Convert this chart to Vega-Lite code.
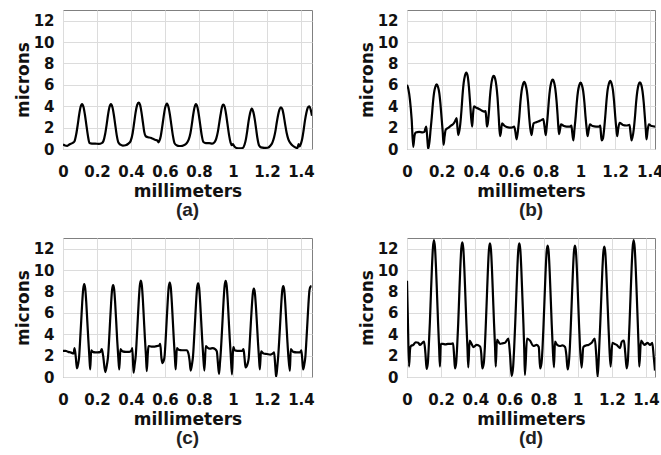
{
"$schema": "https://vega.github.io/schema/vega-lite/v6.json",
"autosize": {"type": "pad"},
"padding": {"left": 13, "top": 9, "right": 0, "bottom": 0},
"background": "white",
"columns": 2,
"bounds": "flush",
"spacing": {"row": 89, "column": 95},
"datasets": {
"a": [{"x":0,"y":0.42},{"x":0.012,"y":0.33},{"x":0.025,"y":0.3},{"x":0.04,"y":0.45},{"x":0.055,"y":0.55},{"x":0.067,"y":0.7},{"x":0.078,"y":1.4},{"x":0.087,"y":2.3},{"x":0.095,"y":3.2},{"x":0.103,"y":3.9},{"x":0.112,"y":4.2},{"x":0.121,"y":3.9},{"x":0.129,"y":3.2},{"x":0.137,"y":2.3},{"x":0.146,"y":1.3},{"x":0.156,"y":0.55},{"x":0.17,"y":0.5},{"x":0.19,"y":0.5},{"x":0.21,"y":0.48},{"x":0.228,"y":0.55},{"x":0.238,"y":0.75},{"x":0.248,"y":1.4},{"x":0.257,"y":2.3},{"x":0.265,"y":3.2},{"x":0.273,"y":3.9},{"x":0.282,"y":4.2},{"x":0.291,"y":3.9},{"x":0.299,"y":3.2},{"x":0.307,"y":2.3},{"x":0.316,"y":1.3},{"x":0.326,"y":0.6},{"x":0.338,"y":0.4},{"x":0.352,"y":0.32},{"x":0.368,"y":0.35},{"x":0.385,"y":0.5},{"x":0.398,"y":0.75},{"x":0.41,"y":1.5},{"x":0.419,"y":2.5},{"x":0.427,"y":3.4},{"x":0.436,"y":4.1},{"x":0.445,"y":4.35},{"x":0.454,"y":4.1},{"x":0.462,"y":3.4},{"x":0.47,"y":2.5},{"x":0.478,"y":1.6},{"x":0.486,"y":1.2},{"x":0.5,"y":1.1},{"x":0.515,"y":1.05},{"x":0.53,"y":0.95},{"x":0.545,"y":0.85},{"x":0.555,"y":0.8},{"x":0.562,"y":0.62},{"x":0.568,"y":0.8},{"x":0.575,"y":1.2},{"x":0.583,"y":2.0},{"x":0.592,"y":3.0},{"x":0.6,"y":3.8},{"x":0.612,"y":4.25},{"x":0.621,"y":3.9},{"x":0.629,"y":3.2},{"x":0.637,"y":2.3},{"x":0.646,"y":1.3},{"x":0.656,"y":0.55},{"x":0.668,"y":0.35},{"x":0.685,"y":0.28},{"x":0.702,"y":0.3},{"x":0.718,"y":0.4},{"x":0.73,"y":0.6},{"x":0.74,"y":0.9},{"x":0.75,"y":1.5},{"x":0.758,"y":2.3},{"x":0.766,"y":3.2},{"x":0.774,"y":3.9},{"x":0.782,"y":4.2},{"x":0.791,"y":3.9},{"x":0.799,"y":3.2},{"x":0.807,"y":2.3},{"x":0.816,"y":1.3},{"x":0.826,"y":0.65},{"x":0.84,"y":0.55},{"x":0.86,"y":0.55},{"x":0.878,"y":0.5},{"x":0.892,"y":0.65},{"x":0.902,"y":1.0},{"x":0.911,"y":1.6},{"x":0.919,"y":2.4},{"x":0.927,"y":3.2},{"x":0.935,"y":3.9},{"x":0.943,"y":4.15},{"x":0.952,"y":3.9},{"x":0.96,"y":3.2},{"x":0.968,"y":2.3},{"x":0.977,"y":1.3},{"x":0.986,"y":0.6},{"x":0.994,"y":0.35},{"x":1.0,"y":0.45},{"x":1.008,"y":0.25},{"x":1.02,"y":0.1},{"x":1.04,"y":0.05},{"x":1.058,"y":0.1},{"x":1.068,"y":0.4},{"x":1.076,"y":0.9},{"x":1.084,"y":1.7},{"x":1.092,"y":2.6},{"x":1.1,"y":3.3},{"x":1.11,"y":3.78},{"x":1.12,"y":3.45},{"x":1.128,"y":2.8},{"x":1.136,"y":1.9},{"x":1.144,"y":1.0},{"x":1.153,"y":0.35},{"x":1.165,"y":0.15},{"x":1.185,"y":0.1},{"x":1.205,"y":0.12},{"x":1.22,"y":0.3},{"x":1.232,"y":0.6},{"x":1.242,"y":1.1},{"x":1.25,"y":1.7},{"x":1.258,"y":2.5},{"x":1.266,"y":3.2},{"x":1.274,"y":3.7},{"x":1.282,"y":3.9},{"x":1.291,"y":3.7},{"x":1.299,"y":3.1},{"x":1.307,"y":2.3},{"x":1.316,"y":1.5},{"x":1.326,"y":0.9},{"x":1.338,"y":0.55},{"x":1.352,"y":0.3},{"x":1.368,"y":0.15},{"x":1.38,"y":0.1},{"x":1.386,"y":0.45},{"x":1.392,"y":0.25},{"x":1.4,"y":0.5},{"x":1.408,"y":1.0},{"x":1.416,"y":1.8},{"x":1.424,"y":2.7},{"x":1.432,"y":3.4},{"x":1.44,"y":3.85},{"x":1.449,"y":4.0},{"x":1.457,"y":3.7},{"x":1.465,"y":3.1}],
"b": [{"x":0,"y":6.0},{"x":0.008,"y":5.6},{"x":0.017,"y":4.6},{"x":0.027,"y":2.75},{"x":0.036,"y":0.2},{"x":0.043,"y":1.2},{"x":0.05,"y":1.55},{"x":0.07,"y":1.6},{"x":0.09,"y":1.55},{"x":0.1,"y":1.6},{"x":0.106,"y":1.9},{"x":0.111,"y":2.1},{"x":0.117,"y":1.0},{"x":0.122,"y":0.0},{"x":0.129,"y":0.6},{"x":0.136,"y":1.8},{"x":0.143,"y":3.0},{"x":0.149,"y":4.2},{"x":0.156,"y":5.25},{"x":0.163,"y":5.8},{"x":0.171,"y":6.05},{"x":0.179,"y":5.8},{"x":0.186,"y":5.25},{"x":0.193,"y":4.2},{"x":0.199,"y":3.0},{"x":0.206,"y":1.6},{"x":0.211,"y":0.4},{"x":0.217,"y":1.2},{"x":0.223,"y":1.8},{"x":0.24,"y":2.0},{"x":0.255,"y":2.2},{"x":0.267,"y":2.35},{"x":0.277,"y":2.6},{"x":0.286,"y":2.9},{"x":0.291,"y":2.0},{"x":0.296,"y":1.3},{"x":0.307,"y":2.3},{"x":0.314,"y":3.6},{"x":0.32,"y":5.0},{"x":0.327,"y":6.2},{"x":0.334,"y":6.85},{"x":0.342,"y":7.15},{"x":0.35,"y":6.8},{"x":0.357,"y":5.8},{"x":0.364,"y":4.3},{"x":0.37,"y":2.9},{"x":0.376,"y":2.1},{"x":0.381,"y":3.3},{"x":0.386,"y":4.0},{"x":0.4,"y":3.85},{"x":0.415,"y":3.75},{"x":0.43,"y":3.6},{"x":0.445,"y":3.5},{"x":0.453,"y":3.55},{"x":0.457,"y":2.9},{"x":0.461,"y":2.1},{"x":0.465,"y":2.3},{"x":0.472,"y":3.4},{"x":0.478,"y":4.8},{"x":0.485,"y":5.95},{"x":0.492,"y":6.6},{"x":0.5,"y":6.85},{"x":0.508,"y":6.6},{"x":0.515,"y":5.95},{"x":0.522,"y":4.8},{"x":0.529,"y":3.0},{"x":0.536,"y":1.2},{"x":0.541,"y":1.5},{"x":0.548,"y":2.4},{"x":0.56,"y":2.2},{"x":0.575,"y":2.05},{"x":0.59,"y":2.0},{"x":0.603,"y":2.0},{"x":0.618,"y":2.1},{"x":0.625,"y":1.6},{"x":0.632,"y":0.9},{"x":0.641,"y":1.9},{"x":0.648,"y":3.1},{"x":0.654,"y":4.4},{"x":0.661,"y":5.45},{"x":0.668,"y":6.0},{"x":0.676,"y":6.27},{"x":0.684,"y":6.0},{"x":0.691,"y":5.45},{"x":0.698,"y":4.4},{"x":0.704,"y":3.1},{"x":0.711,"y":1.9},{"x":0.718,"y":1.3},{"x":0.724,"y":1.9},{"x":0.73,"y":2.4},{"x":0.745,"y":2.5},{"x":0.76,"y":2.6},{"x":0.775,"y":2.7},{"x":0.786,"y":2.8},{"x":0.793,"y":2.1},{"x":0.8,"y":1.3},{"x":0.805,"y":2.0},{"x":0.812,"y":3.25},{"x":0.818,"y":4.55},{"x":0.825,"y":5.65},{"x":0.832,"y":6.25},{"x":0.84,"y":6.5},{"x":0.848,"y":6.25},{"x":0.855,"y":5.65},{"x":0.862,"y":4.55},{"x":0.868,"y":3.25},{"x":0.873,"y":2.0},{"x":0.877,"y":1.4},{"x":0.883,"y":1.9},{"x":0.888,"y":2.3},{"x":0.905,"y":2.15},{"x":0.92,"y":2.1},{"x":0.94,"y":2.1},{"x":0.948,"y":2.2},{"x":0.953,"y":1.5},{"x":0.959,"y":0.8},{"x":0.966,"y":1.9},{"x":0.973,"y":3.1},{"x":0.979,"y":4.35},{"x":0.986,"y":5.4},{"x":0.993,"y":5.95},{"x":1.001,"y":6.2},{"x":1.009,"y":5.95},{"x":1.016,"y":5.4},{"x":1.023,"y":4.35},{"x":1.029,"y":3.1},{"x":1.036,"y":1.9},{"x":1.041,"y":1.2},{"x":1.048,"y":1.8},{"x":1.055,"y":2.3},{"x":1.07,"y":2.15},{"x":1.09,"y":2.1},{"x":1.108,"y":2.1},{"x":1.114,"y":2.2},{"x":1.118,"y":1.5},{"x":1.122,"y":0.8},{"x":1.13,"y":1.0},{"x":1.137,"y":1.9},{"x":1.144,"y":3.2},{"x":1.15,"y":4.45},{"x":1.157,"y":5.55},{"x":1.164,"y":6.1},{"x":1.172,"y":6.37},{"x":1.18,"y":6.1},{"x":1.187,"y":5.55},{"x":1.194,"y":4.45},{"x":1.2,"y":3.2},{"x":1.207,"y":1.9},{"x":1.212,"y":1.2},{"x":1.218,"y":1.9},{"x":1.226,"y":2.45},{"x":1.245,"y":2.25},{"x":1.265,"y":2.2},{"x":1.283,"y":2.25},{"x":1.289,"y":1.5},{"x":1.295,"y":0.8},{"x":1.308,"y":1.9},{"x":1.315,"y":3.1},{"x":1.321,"y":4.35},{"x":1.328,"y":5.4},{"x":1.335,"y":6.0},{"x":1.343,"y":6.24},{"x":1.351,"y":6.0},{"x":1.358,"y":5.4},{"x":1.365,"y":4.35},{"x":1.371,"y":3.1},{"x":1.377,"y":1.8},{"x":1.381,"y":0.9},{"x":1.388,"y":1.8},{"x":1.395,"y":2.3},{"x":1.41,"y":2.15},{"x":1.43,"y":2.1}],
"c": [{"x":0,"y":2.45},{"x":0.015,"y":2.45},{"x":0.03,"y":2.35},{"x":0.045,"y":2.3},{"x":0.062,"y":2.2},{"x":0.068,"y":2.7},{"x":0.075,"y":1.9},{"x":0.082,"y":0.8},{"x":0.089,"y":1.2},{"x":0.095,"y":1.9},{"x":0.101,"y":3.5},{"x":0.107,"y":5.2},{"x":0.113,"y":6.95},{"x":0.119,"y":8.25},{"x":0.125,"y":8.68},{"x":0.131,"y":8.25},{"x":0.137,"y":6.95},{"x":0.143,"y":5.2},{"x":0.149,"y":3.5},{"x":0.155,"y":1.9},{"x":0.16,"y":0.7},{"x":0.166,"y":2.5},{"x":0.175,"y":2.35},{"x":0.19,"y":2.3},{"x":0.205,"y":2.3},{"x":0.22,"y":2.35},{"x":0.228,"y":2.6},{"x":0.236,"y":2.0},{"x":0.249,"y":0.45},{"x":0.259,"y":1.2},{"x":0.265,"y":1.9},{"x":0.271,"y":3.4},{"x":0.277,"y":5.2},{"x":0.283,"y":6.9},{"x":0.289,"y":8.2},{"x":0.295,"y":8.6},{"x":0.301,"y":8.2},{"x":0.307,"y":6.9},{"x":0.313,"y":5.2},{"x":0.319,"y":3.4},{"x":0.325,"y":1.9},{"x":0.331,"y":0.7},{"x":0.338,"y":2.6},{"x":0.35,"y":2.4},{"x":0.37,"y":2.35},{"x":0.39,"y":2.35},{"x":0.403,"y":2.5},{"x":0.408,"y":2.7},{"x":0.415,"y":0.4},{"x":0.422,"y":1.2},{"x":0.428,"y":2.0},{"x":0.434,"y":3.6},{"x":0.44,"y":5.4},{"x":0.446,"y":7.2},{"x":0.452,"y":8.55},{"x":0.458,"y":9.02},{"x":0.464,"y":8.55},{"x":0.47,"y":7.2},{"x":0.476,"y":5.4},{"x":0.482,"y":3.6},{"x":0.488,"y":2.0},{"x":0.493,"y":0.55},{"x":0.499,"y":2.2},{"x":0.503,"y":2.9},{"x":0.52,"y":2.85},{"x":0.54,"y":2.85},{"x":0.555,"y":2.9},{"x":0.566,"y":2.95},{"x":0.572,"y":3.1},{"x":0.579,"y":1.8},{"x":0.585,"y":1.3},{"x":0.592,"y":1.5},{"x":0.598,"y":2.0},{"x":0.604,"y":3.5},{"x":0.61,"y":5.3},{"x":0.616,"y":7.05},{"x":0.622,"y":8.4},{"x":0.628,"y":8.83},{"x":0.634,"y":8.4},{"x":0.64,"y":7.05},{"x":0.646,"y":5.3},{"x":0.652,"y":3.5},{"x":0.658,"y":1.9},{"x":0.663,"y":0.7},{"x":0.67,"y":2.7},{"x":0.68,"y":2.55},{"x":0.7,"y":2.5},{"x":0.715,"y":2.5},{"x":0.728,"y":2.5},{"x":0.738,"y":2.2},{"x":0.745,"y":1.5},{"x":0.751,"y":0.6},{"x":0.759,"y":1.2},{"x":0.765,"y":1.95},{"x":0.771,"y":3.5},{"x":0.777,"y":5.25},{"x":0.783,"y":7.0},{"x":0.789,"y":8.35},{"x":0.795,"y":8.77},{"x":0.801,"y":8.35},{"x":0.807,"y":7.0},{"x":0.813,"y":5.25},{"x":0.819,"y":3.5},{"x":0.825,"y":1.95},{"x":0.832,"y":0.6},{"x":0.84,"y":2.9},{"x":0.85,"y":2.75},{"x":0.865,"y":2.65},{"x":0.88,"y":2.7},{"x":0.895,"y":2.6},{"x":0.905,"y":2.4},{"x":0.912,"y":1.2},{"x":0.918,"y":0.3},{"x":0.924,"y":1.4},{"x":0.927,"y":2.0},{"x":0.933,"y":3.6},{"x":0.939,"y":5.4},{"x":0.945,"y":7.2},{"x":0.951,"y":8.55},{"x":0.957,"y":9.0},{"x":0.963,"y":8.55},{"x":0.969,"y":7.2},{"x":0.975,"y":5.4},{"x":0.981,"y":3.6},{"x":0.987,"y":2.0},{"x":0.994,"y":0.25},{"x":1.0,"y":2.4},{"x":1.003,"y":2.8},{"x":1.01,"y":2.5},{"x":1.025,"y":2.45},{"x":1.04,"y":2.45},{"x":1.055,"y":2.45},{"x":1.062,"y":2.6},{"x":1.068,"y":1.8},{"x":1.074,"y":0.9},{"x":1.087,"y":1.3},{"x":1.093,"y":1.8},{"x":1.099,"y":3.3},{"x":1.105,"y":5.0},{"x":1.111,"y":6.6},{"x":1.117,"y":7.85},{"x":1.123,"y":8.26},{"x":1.129,"y":7.85},{"x":1.135,"y":6.6},{"x":1.141,"y":5.0},{"x":1.147,"y":3.3},{"x":1.153,"y":1.8},{"x":1.158,"y":0.7},{"x":1.165,"y":2.4},{"x":1.18,"y":2.2},{"x":1.2,"y":2.15},{"x":1.22,"y":2.1},{"x":1.235,"y":2.2},{"x":1.242,"y":2.3},{"x":1.249,"y":1.0},{"x":1.254,"y":0.0},{"x":1.261,"y":1.0},{"x":1.266,"y":1.9},{"x":1.272,"y":3.4},{"x":1.278,"y":5.1},{"x":1.284,"y":6.8},{"x":1.29,"y":8.1},{"x":1.296,"y":8.5},{"x":1.302,"y":8.1},{"x":1.308,"y":6.8},{"x":1.314,"y":5.1},{"x":1.32,"y":3.4},{"x":1.326,"y":1.9},{"x":1.335,"y":0.57},{"x":1.34,"y":2.6},{"x":1.355,"y":2.35},{"x":1.375,"y":2.3},{"x":1.395,"y":2.3},{"x":1.402,"y":2.5},{"x":1.407,"y":1.8},{"x":1.413,"y":0.7},{"x":1.42,"y":1.2},{"x":1.426,"y":1.9},{"x":1.432,"y":3.4},{"x":1.438,"y":5.1},{"x":1.444,"y":6.8},{"x":1.45,"y":8.1},{"x":1.456,"y":8.45},{"x":1.462,"y":8.5}],
"d": [{"x":0,"y":9.0},{"x":0.005,"y":5.5},{"x":0.012,"y":0.97},{"x":0.018,"y":2.6},{"x":0.023,"y":2.9},{"x":0.037,"y":3.0},{"x":0.051,"y":3.25},{"x":0.066,"y":3.2},{"x":0.076,"y":3.0},{"x":0.09,"y":3.2},{"x":0.1,"y":3.3},{"x":0.108,"y":2.2},{"x":0.115,"y":0.75},{"x":0.122,"y":1.3},{"x":0.128,"y":3.0},{"x":0.134,"y":5.1},{"x":0.14,"y":7.7},{"x":0.146,"y":10.2},{"x":0.152,"y":12.1},{"x":0.158,"y":12.8},{"x":0.164,"y":12.1},{"x":0.17,"y":10.2},{"x":0.176,"y":7.7},{"x":0.182,"y":5.1},{"x":0.188,"y":2.8},{"x":0.193,"y":0.97},{"x":0.198,"y":3.1},{"x":0.21,"y":3.1},{"x":0.225,"y":3.05},{"x":0.24,"y":3.1},{"x":0.26,"y":3.1},{"x":0.27,"y":3.15},{"x":0.276,"y":2.0},{"x":0.281,"y":0.8},{"x":0.288,"y":1.3},{"x":0.294,"y":2.9},{"x":0.3,"y":5.0},{"x":0.306,"y":7.6},{"x":0.312,"y":10.1},{"x":0.318,"y":12.0},{"x":0.324,"y":12.6},{"x":0.33,"y":12.0},{"x":0.336,"y":10.1},{"x":0.342,"y":7.6},{"x":0.348,"y":5.0},{"x":0.354,"y":2.8},{"x":0.359,"y":0.9},{"x":0.367,"y":3.4},{"x":0.378,"y":3.1},{"x":0.389,"y":2.8},{"x":0.408,"y":3.0},{"x":0.428,"y":2.85},{"x":0.435,"y":2.2},{"x":0.441,"y":0.8},{"x":0.45,"y":1.3},{"x":0.456,"y":2.75},{"x":0.462,"y":5.0},{"x":0.468,"y":7.5},{"x":0.474,"y":10.0},{"x":0.48,"y":11.9},{"x":0.486,"y":12.5},{"x":0.492,"y":11.9},{"x":0.498,"y":10.0},{"x":0.504,"y":7.5},{"x":0.51,"y":5.0},{"x":0.516,"y":2.75},{"x":0.52,"y":0.97},{"x":0.527,"y":3.5},{"x":0.545,"y":3.1},{"x":0.56,"y":3.15},{"x":0.574,"y":3.2},{"x":0.594,"y":3.6},{"x":0.604,"y":2.0},{"x":0.613,"y":0.1},{"x":0.622,"y":1.0},{"x":0.628,"y":2.75},{"x":0.634,"y":5.0},{"x":0.64,"y":7.5},{"x":0.646,"y":10.0},{"x":0.652,"y":11.9},{"x":0.658,"y":12.5},{"x":0.664,"y":11.9},{"x":0.67,"y":10.0},{"x":0.676,"y":7.5},{"x":0.682,"y":5.0},{"x":0.687,"y":2.5},{"x":0.691,"y":0.19},{"x":0.703,"y":3.6},{"x":0.721,"y":3.4},{"x":0.74,"y":2.9},{"x":0.76,"y":3.0},{"x":0.772,"y":2.8},{"x":0.78,"y":0.8},{"x":0.788,"y":1.3},{"x":0.794,"y":2.7},{"x":0.8,"y":4.9},{"x":0.806,"y":7.4},{"x":0.812,"y":9.85},{"x":0.818,"y":11.7},{"x":0.824,"y":12.3},{"x":0.83,"y":11.7},{"x":0.836,"y":9.85},{"x":0.842,"y":7.4},{"x":0.848,"y":4.9},{"x":0.854,"y":2.7},{"x":0.861,"y":0.9},{"x":0.867,"y":3.3},{"x":0.88,"y":3.0},{"x":0.896,"y":2.9},{"x":0.91,"y":2.95},{"x":0.926,"y":2.8},{"x":0.934,"y":2.0},{"x":0.941,"y":0.7},{"x":0.948,"y":1.3},{"x":0.954,"y":2.7},{"x":0.96,"y":4.9},{"x":0.966,"y":7.4},{"x":0.972,"y":9.85},{"x":0.978,"y":11.7},{"x":0.984,"y":12.3},{"x":0.99,"y":11.7},{"x":0.996,"y":9.85},{"x":1.002,"y":7.4},{"x":1.008,"y":4.9},{"x":1.014,"y":2.7},{"x":1.023,"y":0.88},{"x":1.033,"y":2.8},{"x":1.048,"y":2.95},{"x":1.063,"y":3.0},{"x":1.082,"y":3.2},{"x":1.1,"y":3.6},{"x":1.109,"y":2.0},{"x":1.117,"y":0.0},{"x":1.126,"y":2.7},{"x":1.132,"y":4.9},{"x":1.138,"y":7.3},{"x":1.144,"y":9.75},{"x":1.15,"y":11.6},{"x":1.156,"y":12.2},{"x":1.162,"y":11.6},{"x":1.168,"y":9.75},{"x":1.174,"y":7.3},{"x":1.18,"y":4.9},{"x":1.186,"y":2.7},{"x":1.193,"y":0.97},{"x":1.203,"y":3.2},{"x":1.215,"y":3.1},{"x":1.229,"y":3.0},{"x":1.248,"y":2.7},{"x":1.258,"y":3.3},{"x":1.271,"y":3.4},{"x":1.279,"y":2.2},{"x":1.287,"y":0.8},{"x":1.294,"y":1.5},{"x":1.298,"y":2.8},{"x":1.304,"y":5.1},{"x":1.31,"y":7.7},{"x":1.316,"y":10.2},{"x":1.322,"y":12.1},{"x":1.328,"y":12.8},{"x":1.334,"y":12.1},{"x":1.34,"y":10.2},{"x":1.346,"y":7.7},{"x":1.352,"y":5.1},{"x":1.357,"y":2.8},{"x":1.361,"y":0.97},{"x":1.371,"y":3.4},{"x":1.381,"y":3.2},{"x":1.391,"y":3.0},{"x":1.41,"y":3.2},{"x":1.424,"y":3.0},{"x":1.437,"y":3.2},{"x":1.445,"y":2.0},{"x":1.453,"y":0.6}]
},
"concat": [
{"data": {"name": "a"}, "width": 249, "height": 139, "title": {"text": "(a)"},
 "mark": {"type": "line", "color": "#000", "strokeWidth": 2.2, "interpolate": "monotone", "clip": true},
 "encoding": {
  "x": {"field": "x", "type": "quantitative", "scale": {"domain": [0, 1.465], "nice": false, "zero": false}, "axis": {"title": "millimeters", "values": [0, 0.2, 0.4, 0.6, 0.8, 1, 1.2, 1.4], "format": "~g"}},
  "y": {"field": "y", "type": "quantitative", "scale": {"domain": [0, 13], "nice": false}, "axis": {"title": "microns", "values": [0, 2, 4, 6, 8, 10, 12]}}}},
{"data": {"name": "b"}, "width": 248, "height": 139, "title": {"text": "(b)"},
 "mark": {"type": "line", "color": "#000", "strokeWidth": 2.2, "interpolate": "monotone", "clip": true},
 "encoding": {
  "x": {"field": "x", "type": "quantitative", "scale": {"domain": [0, 1.43], "nice": false, "zero": false}, "axis": {"title": "millimeters", "values": [0, 0.2, 0.4, 0.6, 0.8, 1, 1.2, 1.4], "format": "~g"}},
  "y": {"field": "y", "type": "quantitative", "scale": {"domain": [0, 13], "nice": false}, "axis": {"title": "microns", "values": [0, 2, 4, 6, 8, 10, 12]}}}},
{"data": {"name": "c"}, "width": 249, "height": 139, "title": {"text": "(c)"},
 "mark": {"type": "line", "color": "#000", "strokeWidth": 2.2, "interpolate": "monotone", "clip": true},
 "encoding": {
  "x": {"field": "x", "type": "quantitative", "scale": {"domain": [0, 1.465], "nice": false, "zero": false}, "axis": {"title": "millimeters", "values": [0, 0.2, 0.4, 0.6, 0.8, 1, 1.2, 1.4], "format": "~g"}},
  "y": {"field": "y", "type": "quantitative", "scale": {"domain": [0, 13], "nice": false}, "axis": {"title": "microns", "values": [0, 2, 4, 6, 8, 10, 12]}}}},
{"data": {"name": "d"}, "width": 248, "height": 139, "title": {"text": "(d)"},
 "mark": {"type": "line", "color": "#000", "strokeWidth": 2.2, "interpolate": "monotone", "clip": true},
 "encoding": {
  "x": {"field": "x", "type": "quantitative", "scale": {"domain": [0, 1.453], "nice": false, "zero": false}, "axis": {"title": "millimeters", "values": [0, 0.2, 0.4, 0.6, 0.8, 1, 1.2, 1.4], "format": "~g"}},
  "y": {"field": "y", "type": "quantitative", "scale": {"domain": [0, 13], "nice": false}, "axis": {"title": "microns", "values": [0, 2, 4, 6, 8, 10, 12]}}}}
],
"config": {
 "font": "DejaVu Sans",
 "view": {"stroke": "#808080", "strokeWidth": 1},
 "axis": {"labelFont": "DejaVu Sans", "labelFontSize": 15, "labelFontWeight": "bold", "labelColor": "#111", "titleFont": "DejaVu Sans", "titleFontSize": 17, "titleFontWeight": "bold", "titleColor": "#111", "gridColor": "#dcdcdc", "gridWidth": 1, "domain": false, "ticks": false, "labelFlush": false, "labelOverlap": false},
 "axisX": {"labelPadding": 15, "titlePadding": 4},
 "axisY": {"labelPadding": 9, "titlePadding": 1},
 "title": {"orient": "bottom", "font": "Liberation Sans", "fontSize": 19, "fontWeight": "bold", "color": "#222", "offset": 2, "anchor": "middle"}
}
}
